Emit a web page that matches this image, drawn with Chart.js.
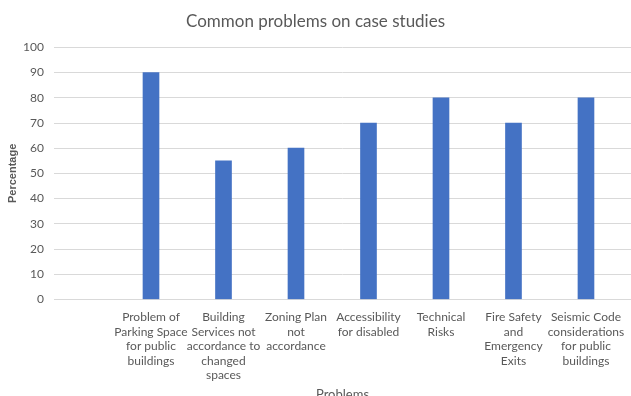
<!DOCTYPE html>
<html>
<head>
<meta charset="utf-8">
<script src="https://cdn.jsdelivr.net/npm/chart.js@4.4.0/dist/chart.umd.min.js"></script>
<style>
  html, body { margin: 0; padding: 0; background: #fff; overflow: hidden; }
  #wrap { width: 631px; height: 407px; position: relative; }
</style>
</head>
<body>
<div id="wrap"><canvas id="myChart"></canvas></div>
<script>
// categories, wrapped the way the original chart shows them
const problems = [
  ['Problem of', 'Parking Space', 'for public', 'buildings'],
  ['Building', 'Services not', 'accordance to', 'changed', 'spaces'],
  ['Zoning Plan', 'not', 'accordance'],
  ['Accessibility', 'for disabled'],
  ['Technical', 'Risks'],
  ['Fire Safety', 'and', 'Emergency', 'Exits'],
  ['Seismic Code', 'considerations', 'for public', 'buildings'],
]
const percentage = [90, 55, 60, 70, 80, 70, 80]
const yTicks = [0, 10, 20, 30, 40, 50, 60, 70, 80, 90, 100]

const grey = '#595959'
const font = 'Lato, "Liberation Sans", sans-serif'

new Chart(document.getElementById('myChart'), {
  type: 'bar',
  data: {
    datasets: [
      {
        label: 'Percentage',
        data: percentage.map((v, i) => ({ x: i + 1, y: v })),
        backgroundColor: '#4472C4',
        barThickness: 16,
      },
    ],
  },
  options: {
    responsive: true,
    maintainAspectRatio: false,
    animation: false,
    layout: { padding: 0 },
    plugins: {
      legend: { display: false },
      tooltip: { enabled: false },
      title: {
        display: true,
        text: 'Common problems on case studies',
        color: grey,
        font: { family: font, size: 17, weight: 'normal' },
        padding: { top: 11, bottom: 16 },
      },
    },
    scales: {
      x: {
        type: 'linear',
        offset: false,
        min: -0.338,
        max: 7.621,
        afterBuildTicks: axis => {
          axis.ticks = problems.map((p, i) => ({ value: i + 1 }))
        },
        ticks: {
          autoSkip: false,
          maxRotation: 0,
          color: grey,
          padding: 3,
          font: { family: font, size: 12, lineHeight: 1.2 },
          callback: v => problems[v - 1],
        },
        grid: { display: false },
        border: { display: true, color: '#d9d9d9' },
        title: {
          display: true,
          text: 'Problems',
          color: grey,
          font: { family: font, size: 13 },
          padding: { top: 2, bottom: 4 },
        },
      },
      y: {
        min: 0,
        max: 100,
        afterBuildTicks: axis => {
          axis.ticks = yTicks.map(v => ({ value: v }))
        },
        afterFit: axis => {
          axis.width = 54
        },
        ticks: {
          color: grey,
          padding: 10,
          font: { family: font, size: 12 },
        },
        grid: { color: '#d9d9d9', drawTicks: false },
        border: { display: false },
        title: {
          display: true,
          text: 'Percentage',
          color: grey,
          font: { family: '"Liberation Sans", sans-serif', size: 11, weight: 'bold' },
          padding: { top: 6, bottom: 5 },
        },
      },
    },
  },
})
</script>
</body>
</html>
